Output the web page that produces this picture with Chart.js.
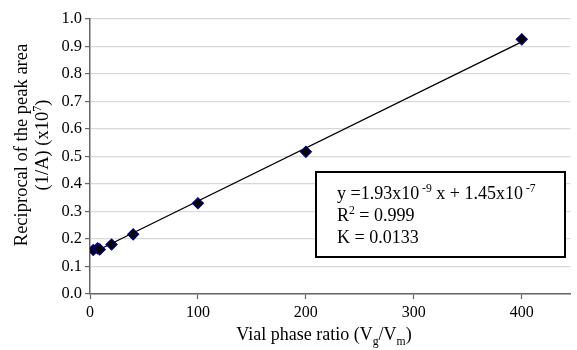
<!DOCTYPE html>
<html><head><meta charset="utf-8">
<script src="https://cdn.jsdelivr.net/npm/chart.js@4/dist/chart.umd.min.js"></script>
<style>html,body{margin:0;padding:0;background:#fff}#wrap{width:577px;height:350px}</style>
</head><body><div id="wrap"><canvas id="c" width="577" height="350"></canvas></div>
<script>
// ---- data ----
const phaseRatio = [3, 7, 9, 20, 40, 100, 200, 400];
const reciprocalArea = [0.160, 0.166, 0.162, 0.180, 0.217, 0.330, 0.517, 0.926];
const trendX = [3, 400];
const trendY = [0.151, 0.917];
const xTickValues = [0, 100, 200, 300, 400];
const yTickValues = [0, 0.1, 0.2, 0.3, 0.4, 0.5, 0.6, 0.7, 0.8, 0.9, 1.0];
const xTitleSegs = [["Vial phase ratio (V", 0], ["g", 1], ["/V", 0], ["m", 1], [")", 0]];
const yTitleLine1 = [["Reciprocal of the peak area", 0]];
const yTitleLine2 = [["(1/A) (x10", 0], ["7", -1], [")", 0]];
const annotLines = [
  [["y =1.93x10", 0], [" -9", -1], [" x + 1.45x10", 0], [" -7", -1]],
  [["R", 0], ["2", -1], [" = 0.999", 0]],
  [["K = 0.0133", 0]]
];

const FONT = "'Liberation Serif','Times New Roman',serif";

function richWidth(ctx, segs, size) {
  let w = 0;
  for (const [t, k] of segs) {
    ctx.font = (k ? size * 0.65 : size) + "px " + FONT;
    w += ctx.measureText(t).width;
  }
  return w;
}
function drawRich(ctx, segs, x, y, size, align) {
  const w = richWidth(ctx, segs, size);
  let cx = align === 'center' ? x - w / 2 : x;
  ctx.textBaseline = 'alphabetic';
  ctx.textAlign = 'left';
  for (const [t, k] of segs) {
    const s = k ? size * 0.65 : size;
    ctx.font = s + "px " + FONT;
    const dy = k === 1 ? size * 0.25 : (k === -1 ? -size * 0.38 : 0);
    ctx.fillText(t, cx, y + dy);
    cx += ctx.measureText(t).width;
  }
}

const textPlugin = {
  id: 'texts',
  afterDraw(chart) {
    const ctx = chart.ctx;
    const area = chart.chartArea;
    ctx.save();
    ctx.fillStyle = '#000';
    // x title
    drawRich(ctx, xTitleSegs, 324, 340, 18, 'center');
    // y title (rotated)
    const cy = 145;
    ctx.save();
    ctx.translate(27, cy);
    ctx.rotate(-Math.PI / 2);
    drawRich(ctx, yTitleLine1, 0, 0, 18.5, 'center');
    ctx.restore();
    ctx.save();
    ctx.translate(48, cy);
    ctx.rotate(-Math.PI / 2);
    drawRich(ctx, yTitleLine2, 0, 0, 18.5, 'center');
    ctx.restore();
    // annotation box
    const bx = 316, by = 172, bw = 249, bh = 85;
    ctx.fillStyle = '#fff';
    ctx.fillRect(bx, by, bw, bh);
    ctx.strokeStyle = '#000';
    ctx.lineWidth = 2;
    ctx.strokeRect(bx, by, bw, bh);
    ctx.fillStyle = '#000';
    annotLines.forEach((segs, i) => drawRich(ctx, segs, 337, 199 + i * 22, 18, 'left'));
    ctx.restore();
  }
};

new Chart(document.getElementById('c'), {
  type: 'scatter',
  data: {
    datasets: [
      {
        label: 'data',
        data: phaseRatio.map((x, i) => ({ x, y: reciprocalArea[i] })),
        pointStyle: 'rectRot',
        pointRadius: 5.5,
        pointHoverRadius: 5.5,
        backgroundColor: '#000',
        borderColor: '#000080',
        borderWidth: 1.2,
        showLine: false,
        order: 0
      },
      {
        label: 'trend',
        data: trendX.map((x, i) => ({ x, y: trendY[i] })),
        showLine: true,
        borderColor: '#000',
        borderWidth: 1.3,
        pointRadius: 0,
        fill: false,
        order: 1
      }
    ]
  },
  options: {
    responsive: false,
    animation: false,
    devicePixelRatio: 1,
    layout: { padding: { top: 19, left: 0, right: 0, bottom: 0 } },
    plugins: { legend: { display: false }, tooltip: { enabled: false } },
    scales: {
      x: {
        type: 'linear', min: 0, max: 445,
        afterBuildTicks: s => { s.ticks = xTickValues.map(v => ({ value: v })); },
        afterFit: s => { s.height = 56; },
        ticks: { color: '#000', font: { family: FONT, size: 16 }, padding: 4, maxRotation: 0 },
        grid: { drawOnChartArea: false, tickLength: 5, tickColor: '#666', tickWidth: 1.2 },
        border: { color: '#666', width: 1.5 }
      },
      y: {
        type: 'linear', min: 0, max: 1,
        afterBuildTicks: s => { s.ticks = yTickValues.map(v => ({ value: v })); },
        afterFit: s => { s.width = 90; },
        ticks: { color: '#000', font: { family: FONT, size: 16.5 }, padding: 3, callback: v => Number(v).toFixed(1) },
        grid: { color: '#d9d9d9', lineWidth: 1.2, tickLength: 5, tickColor: '#666', tickWidth: 1.2 },
        border: { color: '#666', width: 1.5 }
      }
    }
  },
  plugins: [textPlugin]
});
</script>
</body></html>
